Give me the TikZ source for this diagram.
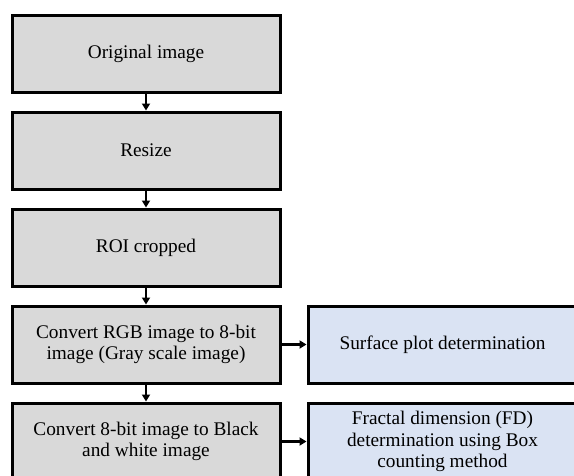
\documentclass[tikz,border=0pt]{standalone}
\usepackage{fontspec}
\setmainfont{Liberation Serif}
\usetikzlibrary{arrows.meta}
\definecolor{stepgray}{HTML}{D9D9D9}
\definecolor{outblue}{HTML}{DAE3F3}
\begin{document}
\begin{tikzpicture}[x=1pt,y=-1pt,
  procbox/.style={draw=black, line width=3pt, fill=stepgray,
    minimum width=268pt, minimum height=77pt, inner sep=0pt,
    align=center, font=\fontsize{19.3}{21.5}\selectfont},
  outbox/.style={procbox, fill=outblue, minimum width=269pt},
  flow/.style={line width=2.2pt, -{Triangle[length=7pt,width=8pt]}}]
  \useasboundingbox (0,0) rectangle (574,475);
  \clip (0,0) rectangle (574,475);
  \fill[white] (0,0) rectangle (574,475);
  % processing chain
  \node[procbox] (orig)   at (146,53.5)  {Original image};
  \node[procbox] (resize) at (146,150.5) {Resize};
  \node[procbox] (roi)    at (146,247.5) {ROI cropped};
  \node[procbox] (gray)   at (146,344.5) {Convert RGB image to 8-bit\\image (Gray scale image)};
  \node[procbox] (bw)     at (146,441.5) {Convert 8-bit image to Black\\and white image};
  % outputs
  \node[outbox]  (surf)   at (442.5,344.5) {Surface plot determination};
  \node[outbox]  (fd)     at (442.5,441.5) {Fractal dimension (FD)\\determination using Box\\counting method};
  % connectors
  \draw[flow] (orig)   -- (resize);
  \draw[flow] (resize) -- (roi);
  \draw[flow] (roi)    -- (gray);
  \draw[flow] (gray)   -- (bw);
  \draw[flow] (gray)   -- (surf);
  \draw[flow] (bw)     -- (fd);
\end{tikzpicture}
\end{document}
